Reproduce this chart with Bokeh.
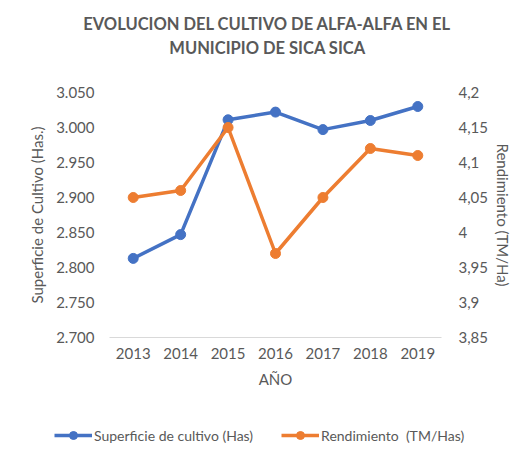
from bokeh.plotting import figure
from bokeh.layouts import column
from bokeh.models import (FactorRange, Range1d, LinearAxis, FixedTicker, CustomJSTickFormatter,
                          Legend, LegendItem, Label, ColumnDataSource)
from bokeh.embed import file_html
from bokeh.resources import INLINE

years = ["2013", "2014", "2015", "2016", "2017", "2018", "2019"]
superficie = [2813, 2847, 3011, 3022, 2997, 3010, 3030]
rendimiento = [4.05, 4.06, 4.15, 3.97, 4.05, 4.12, 4.11]
left_ticks = [2700, 2750, 2800, 2850, 2900, 2950, 3000, 3050]
right_ticks = [3.85, 3.9, 3.95, 4.0, 4.05, 4.1, 4.15, 4.2]
series_names = ["Superficie de cultivo (Has)", "Rendimiento  (TM/Has)"]

title_lines = ["EVOLUCION DEL CULTIVO DE ALFA-ALFA EN EL", "MUNICIPIO DE SICA SICA"]
FONT = "Lato"
GRAY = "#595959"
BLUE = "#4472C4"
ORANGE = "#ED7D31"
W = 522

src = ColumnDataSource(dict(x=years, s=superficie, r=rendimiento))

# ---------- title block ----------
pt = figure(width=W, height=70, x_range=Range1d(0, 1), y_range=Range1d(0, 1),
            x_axis_location=None, y_axis_location=None, output_backend="svg",
            toolbar_location=None, min_border=0, frame_align=False)
pt.outline_line_color = None
pt.grid.grid_line_color = None
for txt, yy in zip(title_lines, [47, 23]):
    pt.add_layout(Label(x=267, y=yy, x_units="screen", y_units="screen", text=txt,
                        text_align="center", text_baseline="middle", text_font=FONT,
                        text_font_size="16.5px", text_font_style="bold", text_color=GRAY))

# ---------- main chart ----------
p = figure(x_range=FactorRange(*years), y_range=Range1d(2700, 3050),
           frame_width=332, frame_height=245, output_backend="svg", toolbar_location=None,
           min_border_left=109, min_border_right=81, min_border_top=22, min_border_bottom=60,
           frame_align=False)
p.extra_y_ranges = {"right": Range1d(3.85, 4.2)}
p.outline_line_color = None
p.xgrid.grid_line_color = None
p.ygrid.grid_line_color = None

def style_axis(ax):
    ax.major_tick_line_color = None
    ax.minor_tick_line_color = None
    ax.major_tick_out = 0
    ax.minor_tick_out = 0
    ax.major_label_text_font = FONT
    ax.major_label_text_font_size = "15px"
    ax.major_label_text_color = GRAY
    ax.axis_label_text_font = FONT
    ax.axis_label_text_font_size = "15px"
    ax.axis_label_text_color = GRAY
    ax.axis_label_text_font_style = "normal"

yl = p.yaxis[0]
style_axis(yl)
yl.axis_line_color = None
yl.ticker = FixedTicker(ticks=left_ticks)
yl.formatter = CustomJSTickFormatter(code="return tick.toFixed(0).replace(/\\B(?=(\\d{3})+(?!\\d))/g, '.');")
yl.axis_label = "Superficie de Cultivo (Has.)"
yl.major_label_standoff = 15
yl.axis_label_standoff = 7

yr = LinearAxis(y_range_name="right")
style_axis(yr)
yr.axis_line_color = None
yr.ticker = FixedTicker(ticks=right_ticks)
yr.formatter = CustomJSTickFormatter(code="return tick.toFixed(2).replace(/0+$/, '').replace(/\\.$/, '').replace('.', ',');")
yr.axis_label = "Rendimiento (TM/Ha)"
yr.major_label_standoff = 17
yr.axis_label_standoff = 3
p.add_layout(yr, "right")

xa = p.xaxis[0]
style_axis(xa)
xa.axis_line_color = "#d9d9d9"
xa.axis_line_width = 1
xa.major_label_standoff = 10
xa.axis_label = "AÑO"
xa.axis_label_standoff = 8

p.line("x", "s", source=src, line_color=BLUE, line_width=3.5)
p.scatter("x", "s", source=src, size=10, fill_color=BLUE, line_color=BLUE)
p.line("x", "r", source=src, y_range_name="right", line_color=ORANGE, line_width=3.5)
p.scatter("x", "r", source=src, y_range_name="right", size=10, fill_color=ORANGE, line_color=ORANGE)

# ---------- legend block (series drawn out of view; only the legend shows) ----------
pl = figure(width=W, height=50, x_range=FactorRange(*years), y_range=Range1d(0, 1),
            x_axis_location=None, y_axis_location=None, output_backend="svg",
            toolbar_location=None, min_border=0, frame_align=False)
pl.outline_line_color = None
pl.grid.grid_line_color = None
items = []
for name, col, field in zip(series_names, [BLUE, ORANGE], ["s", "r"]):
    lr = pl.line("x", field, source=src, line_color=col, line_width=3.5)
    sr = pl.scatter("x", field, source=src, size=10, fill_color=col, line_color=col)
    items.append(LegendItem(label=name, renderers=[lr, sr]))
legend = Legend(items=items, orientation="horizontal", location=(54, 2),
                label_text_font=FONT, label_text_font_size="14px", label_text_color=GRAY,
                glyph_width=38, label_standoff=2, spacing=28, border_line_color=None,
                background_fill_alpha=0, margin=0, padding=4)
pl.add_layout(legend, "center")

layout = column(pt, p, pl, spacing=0)
open("out.html", "w").write(file_html(layout, INLINE))
